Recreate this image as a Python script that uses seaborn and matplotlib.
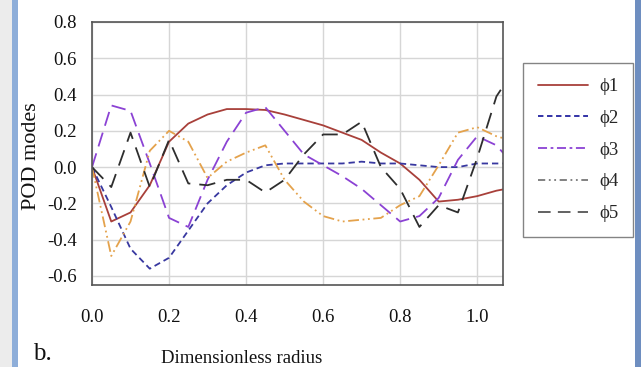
import numpy as np
import pandas as pd
import matplotlib
matplotlib.use("Agg")
import matplotlib.pyplot as plt
from matplotlib.lines import Line2D
from matplotlib.patches import Rectangle
import seaborn as sns

# ---- data ----
radius = [0.0, 0.05, 0.10, 0.15, 0.20, 0.25, 0.30, 0.35, 0.40, 0.45, 0.50, 0.55,
          0.60, 0.65, 0.70, 0.75, 0.80, 0.85, 0.90, 0.95, 1.00, 1.05, 1.10]
phi1 = [0.0, -0.30, -0.25, -0.10, 0.14, 0.24, 0.29, 0.32, 0.32, 0.315, 0.29, 0.26,
        0.23, 0.19, 0.15, 0.08, 0.02, -0.07, -0.19, -0.18, -0.16, -0.13, -0.11]
phi2 = [0.0, -0.22, -0.45, -0.56, -0.50, -0.35, -0.20, -0.10, -0.03, 0.01, 0.02, 0.02,
        0.02, 0.02, 0.03, 0.02, 0.02, 0.01, 0.0, 0.0, 0.02, 0.02, 0.02]
phi3 = [0.0, 0.34, 0.31, 0.02, -0.28, -0.33, -0.07, 0.14, 0.30, 0.33, 0.20, 0.07,
        0.01, -0.05, -0.12, -0.21, -0.30, -0.27, -0.17, 0.04, 0.17, 0.12, 0.0]
phi4 = [0.0, -0.49, -0.30, 0.09, 0.20, 0.14, -0.06, 0.03, 0.08, 0.12, -0.07, -0.19,
        -0.27, -0.30, -0.29, -0.28, -0.21, -0.16, 0.01, 0.19, 0.22, 0.17, 0.14]
phi5 = [0.0, -0.11, 0.19, -0.11, 0.15, -0.09, -0.10, -0.07, -0.07, -0.14, -0.07, 0.07,
        0.18, 0.18, 0.25, 0.00, -0.12, -0.33, -0.21, -0.25, 0.05, 0.39, 0.55]

series_names = ["\u03d51", "\u03d52", "\u03d53", "\u03d54", "\u03d55"]
x_ticks = [0.0, 0.2, 0.4, 0.6, 0.8, 1.0]
y_ticks = [-0.6, -0.4, -0.2, 0.0, 0.2, 0.4, 0.6, 0.8]

# ---- styles ----
plot_colors = ["#A8403A", "#3838A0", "#8B42D4", "#E4A24C", "#2E2E2E"]
plot_styles = ["-", (0, (3.5, 2.2)), (0, (8, 4)), (0, (6, 2, 1, 2, 1, 2)), (0, (9, 5))]
leg_colors = ["#A8403A", "#2323A0", "#8B42D4", "#777777", "#555555"]
leg_styles = ["-", (0, (3, 2)), (0, (5, 2, 1.5, 2)), (0, (4, 2, 1, 2, 1, 2)), (0, (7, 4))]

sns.set_theme(style="whitegrid")
plt.rcParams["font.family"] = ["Liberation Serif", "DejaVu Serif"]

fig = plt.figure(figsize=(6.41, 3.67), dpi=100)
fig.patch.set_facecolor("white")
ax = fig.add_axes([92 / 641, 1 - 285 / 367, (503 - 92) / 641, (285 - 22) / 367])
ax.set_facecolor("white")

df = pd.DataFrame({"radius": radius, "phi1": phi1, "phi2": phi2,
                   "phi3": phi3, "phi4": phi4, "phi5": phi5})
cols = ["phi1", "phi2", "phi3", "phi4", "phi5"]
for col, c, ls in zip(cols, plot_colors, plot_styles):
    sns.lineplot(data=df, x="radius", y=col, ax=ax, color=c, linestyle=ls,
                 linewidth=1.3, sort=False, estimator=None, legend=False)

ax.set_xlim(0, 1.067)
ax.set_ylim(-0.65, 0.8)
ax.set_xticks(x_ticks)
ax.set_xticklabels([f"{v:.1f}" for v in x_ticks])
ax.set_yticks(y_ticks)
ax.set_yticklabels([f"{v:.1f}" for v in y_ticks])
ax.grid(True, color="#d6d6d6", linewidth=1.0)
for s in ax.spines.values():
    s.set_color("#555555")
    s.set_linewidth(1.2)
    s.set_visible(True)
ax.tick_params(axis="both", which="both", direction="out", length=5, width=1,
               color="#555555", labelsize=13.5, labelcolor="#111111")
ax.tick_params(axis="x", pad=12)
ax.tick_params(axis="y", pad=7, length=4)

ax.set_xlabel("")
ax.set_ylabel("POD modes", fontsize=16, color="#111111")
ax.yaxis.set_label_coords(-0.125, 0.49)
fig.text(242 / 641, 1 - 363 / 367, "Dimensionless radius", ha="center", va="baseline",
         fontsize=13.5, color="#111111")
fig.text(33 / 641, 1.5 / 367, "b.", ha="left", va="bottom",
         fontsize=18, color="#111111")

handles = [Line2D([0], [0], color=c, linestyle=ls, linewidth=1.3)
           for c, ls in zip(leg_colors, leg_styles)]
leg = fig.legend(handles, series_names, loc="upper left",
                 bbox_to_anchor=(523 / 641, 1 - 63 / 367), bbox_transform=fig.transFigure,
                 fontsize=13.5, frameon=True, fancybox=False, shadow=False,
                 handlelength=2.65, handletextpad=0.6, labelspacing=0.78,
                 borderpad=0.8, borderaxespad=0.0)
leg.get_frame().set_edgecolor("#666666")
leg.get_frame().set_linewidth(1.0)
leg.get_frame().set_facecolor("white")

# page frame decorations (side strips)
fig.add_artist(Rectangle((0, 0), 12 / 641, 1, transform=fig.transFigure,
                         facecolor="#ececec", edgecolor="none", zorder=-1))
fig.add_artist(Rectangle((12 / 641, 0), 6 / 641, 1, transform=fig.transFigure,
                         facecolor="#8eaed9", edgecolor="none", zorder=-1))
fig.add_artist(Rectangle((635 / 641, 0), 6 / 641, 1, transform=fig.transFigure,
                         facecolor="#6e8ec0", edgecolor="none", zorder=-1))

fig.savefig("out.png", dpi=100)
